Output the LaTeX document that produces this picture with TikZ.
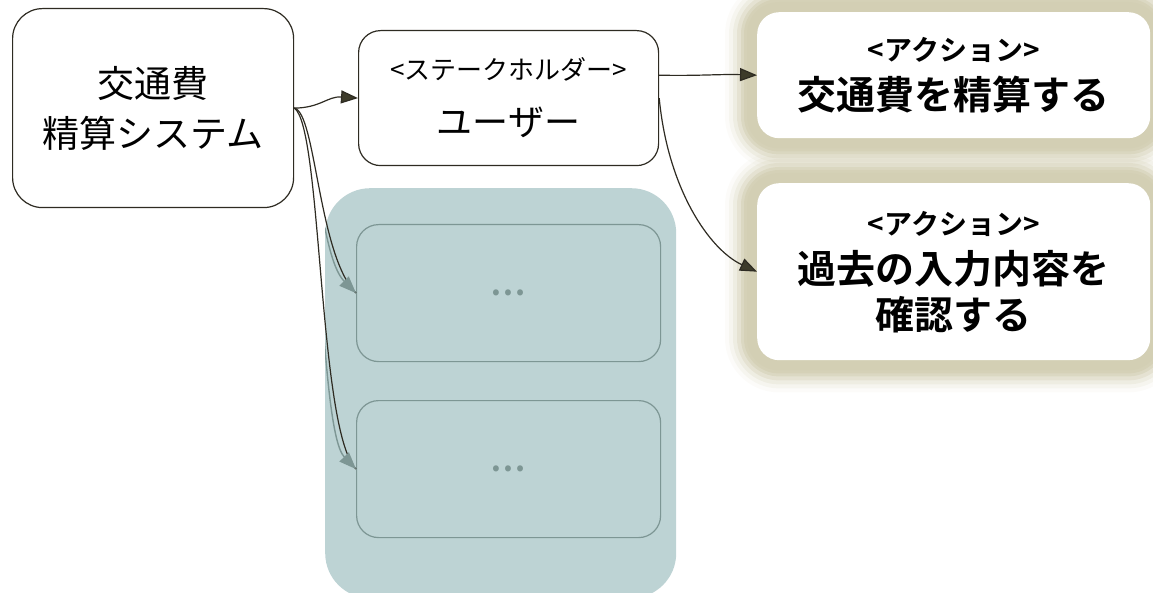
\documentclass[tikz,border=0pt]{standalone}
\usepackage{fontspec}
\setmainfont{Noto Sans CJK JP}[BoldFont={Noto Sans CJK JP Bold}]
\usetikzlibrary{arrows.meta}
\definecolor{linec}{HTML}{2E2B22}
\definecolor{arrowc}{HTML}{3D3B2A}
\definecolor{tealbg}{HTML}{BDD3D4}
\definecolor{tealln}{HTML}{7D9694}
\definecolor{glowc}{HTML}{D3CFB4}
\pgfdeclarelayer{bg}
\pgfsetlayers{bg,main}
\begin{document}
\begin{tikzpicture}[x=1pt,y=-1pt,
  sysbox/.style={draw=linec, line width=1.2pt, fill=white, rounded corners=30pt, inner sep=0pt, align=center, anchor=north west, font=\fontsize{37}{50}\selectfont},
  userbox/.style={draw=linec, line width=1.2pt, fill=white, rounded corners=22pt, inner sep=0pt, align=center, anchor=north west, font=\fontsize{36}{44}\selectfont},
  actbox/.style={fill=white, rounded corners=22pt, inner sep=0pt, align=center, anchor=north west, font=\bfseries\fontsize{39}{46}\selectfont},
  grpbox/.style={fill=tealbg, rounded corners=45pt, inner sep=0pt, anchor=north west},
  innerbox/.style={draw=tealln, line width=1.2pt, rounded corners=22pt, inner sep=0pt, anchor=north west, text=tealln, font=\bfseries\fontsize{32}{34}\selectfont},
  conn/.style={draw=linec, line width=1.2pt, -{Triangle[length=17pt,width=13pt,fill=arrowc]}},
  connbase/.style={draw=linec, line width=1.2pt},
  conngray/.style={draw=tealln, line width=1.4pt, -{Triangle[length=17pt,width=13pt,fill=tealln]}}
]
\useasboundingbox (0,0) rectangle (1153,593);

% group background
\node[grpbox, minimum width=351pt, minimum height=410pt] (grp) at (325,188) {};

% nodes
\node[sysbox, minimum width=281pt, minimum height=199pt] (sys) at (12,8)
  {交通費\\精算システム};
\node[userbox, minimum width=300pt, minimum height=135pt] (user) at (358,30)
  {{\fontsize{26}{28}\selectfont <ステークホルダー>}\\[12pt]ユーザー};
\node[innerbox, minimum width=304pt, minimum height=137pt] (in1) at (356,224) {…};
\node[innerbox, minimum width=304pt, minimum height=137pt] (in2) at (356,400) {…};
\node[actbox, minimum width=393pt, minimum height=126pt] (act1) at (757,12)
  {{\fontsize{28}{30}\selectfont <アクション>}\\[3pt]交通費を精算する};
\node[actbox, minimum width=393pt, minimum height=177pt] (act2) at (757,183)
  {{\fontsize{28}{30}\selectfont <アクション>}\\[3pt]過去の入力内容を\\確認する};

% glow behind action boxes
\begin{pgfonlayer}{bg}
\foreach \n in {act1,act2}{
  \foreach \d/\o in {32/0.08,28/0.14,24/0.22,20/0.35,16/0.55,13/0.8,10/1}{
    \fill[glowc, opacity=\o, rounded corners=22pt+\d pt]
      ([shift={(-\d,-\d)}]\n.north west) rectangle ([shift={(\d,\d)}]\n.south east);
  }
}
\end{pgfonlayer}

% connectors
\draw[conn] (sys.east) .. controls (320,108) and (328,96) .. (user.west);
\draw[connbase] (sys.east) .. controls (316,112) and (318,255) .. (in1.west);
\draw[connbase] (sys.east) .. controls (322,125) and (318,430) .. (in2.west);
\begin{scope}
  \clip[rounded corners=45pt] (grp.north west) rectangle (grp.south east);
  \draw[conngray] (sys.east) .. controls (316,112) and (318,255) .. (in1.west);
  \draw[conngray] (sys.east) .. controls (322,125) and (318,430) .. (in2.west);
\end{scope}
\coordinate (u1) at (user.east |- act1.west);
\draw[conn] (u1) .. controls (700,76) and (720,74) .. (act1.west);
\draw[conn] (user.east) .. controls (668,190) and (710,250) .. (act2.west);
\end{tikzpicture}
\end{document}
